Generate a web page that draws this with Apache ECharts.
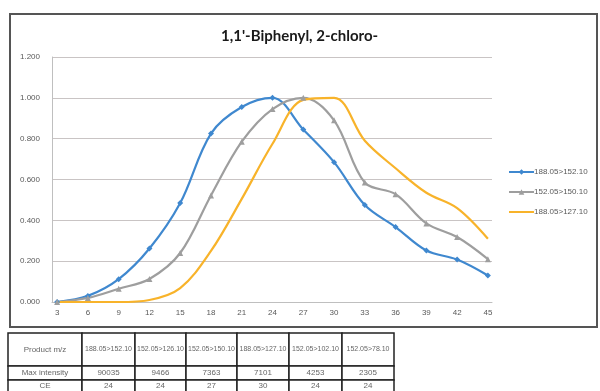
<!DOCTYPE html>
<html>
<head>
<meta charset="utf-8">
<script src="https://cdn.jsdelivr.net/npm/echarts@6/dist/echarts.min.js"></script>
<style>
  html, body { margin: 0; padding: 0; background: #fff; }
  #main { width: 600px; height: 391px; }
</style>
</head>
<body>
<div id="main"></div>
<script>
// collision energy steps (x axis)
var ceSteps = [3, 6, 9, 12, 15, 18, 21, 24, 27, 30, 33, 36, 39, 42, 45];
var seriesNames = ['188.05>152.10', '152.05>150.10', '188.05>127.10'];
var s188_152 = [0.000, 0.030, 0.112, 0.262, 0.485, 0.825, 0.955, 1.000, 0.845, 0.685, 0.475, 0.367, 0.252, 0.208, 0.130];
var s152_150 = [0.000, 0.020, 0.065, 0.113, 0.240, 0.522, 0.785, 0.945, 1.000, 0.890, 0.585, 0.528, 0.385, 0.318, 0.210];
var s188_127 = [0.000, 0.000, 0.000, 0.010, 0.068, 0.250, 0.505, 0.775, 0.990, 1.000, 0.790, 0.655, 0.535, 0.460, 0.310];

// table under the chart
var tableHead = ['Product m/z', '188.05>152.10', '152.05>126.10', '152.05>150.10', '188.05>127.10', '152.05>102.10', '152.05>78.10'];
var maxIntensity = ['Max intensity', '90035', '9466', '7363', '7101', '4253', '2305'];
var ceRow = ['CE', '24', '24', '27', '30', '24', '24'];

var colEdges = [8, 82, 135, 186, 237, 289, 342, 394];
var rowEdges = [333, 366, 380, 394];

function pairs(vals) {
	return ceSteps.map(function (x, i) { return [x, vals[i]]; });
}

var tableItems = [];
[tableHead, maxIntensity, ceRow].forEach(function (row, r) {
	row.forEach(function (txt, c) {
		var x0 = colEdges[c], x1 = colEdges[c + 1];
		var y0 = rowEdges[r], y1 = rowEdges[r + 1];
		tableItems.push({
			type: 'rect',
			shape: { x: x0, y: y0, width: x1 - x0, height: y1 - y0 },
			style: { fill: '#fff', stroke: '#222', lineWidth: 1.5 }
		});
		tableItems.push({
			type: 'text',
			x: (x0 + x1) / 2,
			y: (y0 + Math.min(y1, 391)) / 2,
			style: {
				text: txt,
				fill: '#666',
				font: (r === 0 && c > 0 ? '7px' : '8px') + ' "Liberation Sans", sans-serif',
				align: 'center',
				verticalAlign: 'middle'
			}
		});
	});
});

var myChart = echarts.init(document.getElementById('main'));
var option = {
	backgroundColor: '#fff',
	animation: false,
	title: {
		text: "1,1'-Biphenyl, 2-chloro-",
		left: 216,
		top: 24,
		textStyle: { fontFamily: 'Lato', fontWeight: 'bold', fontSize: 15, color: '#1a1a1a' }
	},
	legend: {
		data: [
			seriesNames[0],
			seriesNames[1],
			{ name: seriesNames[2], itemStyle: { color: 'transparent', borderWidth: 0 } }
		],
		orient: 'vertical',
		left: 503,
		top: 163,
		itemWidth: 25,
		itemHeight: 7,
		itemGap: 12,
		textStyle: { fontSize: 8, color: '#595959', fontFamily: '"Liberation Sans", sans-serif', padding: [0, 0, 0, -5] }
	},
	grid: { left: 52, right: 108, top: 57, bottom: 89 },
	xAxis: {
		type: 'value',
		min: 2.5,
		max: 45.4,
		axisLine: { show: true, lineStyle: { color: '#bfbfbf' } },
		axisTick: { show: false },
		splitLine: { show: false },
		axisLabel: {
			customValues: ceSteps,
			color: '#595959',
			fontSize: 8,
			margin: 7
		}
	},
	yAxis: {
		type: 'value',
		min: 0,
		max: 1.2,
		interval: 0.2,
		axisLine: { show: true, lineStyle: { color: '#bfbfbf' } },
		axisTick: { show: false },
		splitLine: { lineStyle: { color: '#c9c4c4' } },
		axisLabel: {
			color: '#595959',
			fontSize: 8,
			margin: 12,
			formatter: function (v) { return v.toFixed(3); }
		}
	},
	series: [
		{
			name: seriesNames[0], type: 'line', smooth: 0.35,
			data: pairs(s188_152),
			symbol: 'diamond', symbolSize: 6,
			lineStyle: { width: 2.2, color: '#3f88cf' },
			itemStyle: { color: '#3f88cf' }
		},
		{
			name: seriesNames[1], type: 'line', smooth: 0.35,
			data: pairs(s152_150),
			symbol: 'triangle', symbolSize: 6,
			lineStyle: { width: 2.2, color: '#9e9e9e' },
			itemStyle: { color: '#9e9e9e' }
		},
		{
			name: seriesNames[2], type: 'line', smooth: 0.35,
			data: pairs(s188_127),
			symbol: 'none',
			lineStyle: { width: 2.2, color: '#f8b32a' },
			itemStyle: { color: '#f8b32a' }
		}
	],
	graphic: [
		{
			type: 'rect',
			shape: { x: 10, y: 14, width: 587, height: 313 },
			style: { fill: 'none', stroke: '#555', lineWidth: 2 },
			silent: true
		},
		{ type: 'group', children: tableItems }
	]
};
myChart.setOption(option);
window.onresize = myChart.resize;
</script>
</body>
</html>
